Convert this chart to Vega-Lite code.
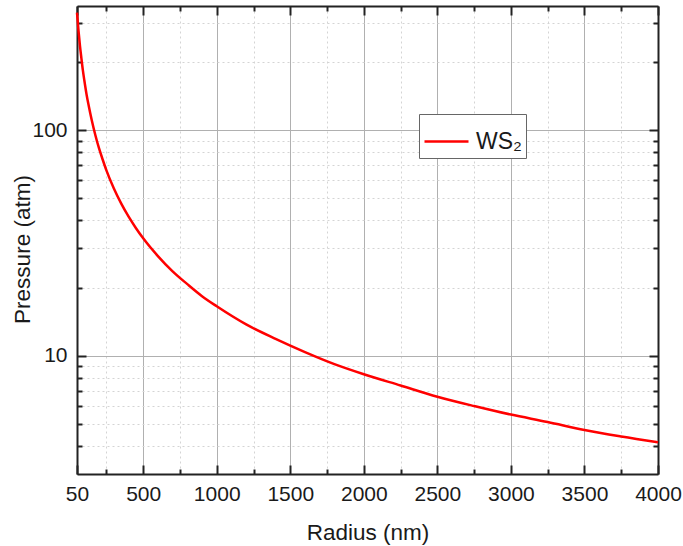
{
  "$schema": "https://vega.github.io/schema/vega-lite/v6.json",
  "width": 581,
  "height": 468,
  "autosize": {"type": "none"},
  "padding": {"left": 77, "top": 6, "right": 25, "bottom": 72},
  "background": "white",
  "config": {
    "view": {"stroke": null},
    "font": "Liberation Sans"
  },
  "data": {
    "values": [
      {"r": 50, "p": 332, "series": "WS₂"},
      {"r": 60, "p": 277, "series": "WS₂"},
      {"r": 70, "p": 237, "series": "WS₂"},
      {"r": 80, "p": 208, "series": "WS₂"},
      {"r": 90, "p": 184, "series": "WS₂"},
      {"r": 100, "p": 166, "series": "WS₂"},
      {"r": 115, "p": 144, "series": "WS₂"},
      {"r": 130, "p": 128, "series": "WS₂"},
      {"r": 150, "p": 111, "series": "WS₂"},
      {"r": 175, "p": 95, "series": "WS₂"},
      {"r": 200, "p": 83, "series": "WS₂"},
      {"r": 225, "p": 74, "series": "WS₂"},
      {"r": 250, "p": 66.4, "series": "WS₂"},
      {"r": 300, "p": 55.3, "series": "WS₂"},
      {"r": 350, "p": 47.4, "series": "WS₂"},
      {"r": 400, "p": 41.5, "series": "WS₂"},
      {"r": 450, "p": 36.9, "series": "WS₂"},
      {"r": 500, "p": 33.2, "series": "WS₂"},
      {"r": 600, "p": 27.7, "series": "WS₂"},
      {"r": 700, "p": 23.7, "series": "WS₂"},
      {"r": 800, "p": 20.8, "series": "WS₂"},
      {"r": 900, "p": 18.4, "series": "WS₂"},
      {"r": 1000, "p": 16.6, "series": "WS₂"},
      {"r": 1200, "p": 13.8, "series": "WS₂"},
      {"r": 1400, "p": 11.9, "series": "WS₂"},
      {"r": 1600, "p": 10.4, "series": "WS₂"},
      {"r": 1800, "p": 9.2, "series": "WS₂"},
      {"r": 2000, "p": 8.3, "series": "WS₂"},
      {"r": 2250, "p": 7.4, "series": "WS₂"},
      {"r": 2500, "p": 6.6, "series": "WS₂"},
      {"r": 2750, "p": 6.0, "series": "WS₂"},
      {"r": 3000, "p": 5.5, "series": "WS₂"},
      {"r": 3250, "p": 5.1, "series": "WS₂"},
      {"r": 3500, "p": 4.7, "series": "WS₂"},
      {"r": 3750, "p": 4.4, "series": "WS₂"},
      {"r": 4000, "p": 4.15, "series": "WS₂"}
    ]
  },
  "resolve": {
    "scale": {"x": "shared", "y": "shared"},
    "axis": {"x": "independent", "y": "independent"}
  },
  "layer": [
    {
      "mark": {"type": "line", "opacity": 0},
      "encoding": {
        "x": {"field": "r", "type": "quantitative", "scale": {"domain": [50, 4000], "nice": false, "zero": false},
          "axis": {"orient": "bottom", "values": [250, 750, 1250, 1750, 2250, 2750, 3250, 3750], "labels": false, "title": null,
            "domain": false, "ticks": true, "tickSize": -5, "tickWidth": 2, "tickColor": "#222",
            "grid": true, "gridColor": "#d4d4d4", "gridDash": [2, 3], "gridWidth": 1}},
        "y": {"field": "p", "type": "quantitative", "scale": {"type": "log", "domain": [3, 355], "nice": false},
          "axis": {"orient": "left", "values": [4, 5, 6, 7, 8, 9, 20, 30, 40, 50, 60, 70, 80, 90, 200, 300], "labels": false, "title": null,
            "domain": false, "ticks": true, "tickSize": -5, "tickWidth": 2, "tickColor": "#222",
            "grid": true, "gridColor": "#d4d4d4", "gridDash": [2, 3], "gridWidth": 1}}
      }
    },
    {
      "mark": {"type": "line", "opacity": 0},
      "encoding": {
        "x": {"field": "r", "type": "quantitative",
          "axis": {"orient": "top", "values": [250, 750, 1250, 1750, 2250, 2750, 3250, 3750], "labels": false, "title": null,
            "domain": false, "ticks": true, "tickSize": -5, "tickWidth": 2, "tickColor": "#222", "grid": false}},
        "y": {"field": "p", "type": "quantitative",
          "axis": {"orient": "right", "values": [4, 5, 6, 7, 8, 9, 20, 30, 40, 50, 60, 70, 80, 90, 200, 300], "labels": false, "title": null,
            "domain": false, "ticks": true, "tickSize": -5, "tickWidth": 2, "tickColor": "#222", "grid": false}}
      }
    },
    {
      "mark": {"type": "line", "opacity": 0},
      "encoding": {
        "x": {"field": "r", "type": "quantitative",
          "axis": {"orient": "top", "values": [50, 500, 1000, 1500, 2000, 2500, 3000, 3500, 4000], "labels": false, "title": null,
            "domain": true, "domainColor": "#222", "domainWidth": 2, "ticks": true, "tickSize": -9, "tickWidth": 2, "tickColor": "#222", "grid": false}},
        "y": {"field": "p", "type": "quantitative",
          "axis": {"orient": "right", "values": [10, 100], "labels": false, "title": null,
            "domain": true, "domainColor": "#222", "domainWidth": 2, "ticks": true, "tickSize": -9, "tickWidth": 2, "tickColor": "#222", "grid": false}}
      }
    },
    {
      "mark": {"type": "line", "color": "#ff0000", "strokeWidth": 2.5, "interpolate": "monotone"},
      "encoding": {
        "x": {"field": "r", "type": "quantitative",
          "axis": {"orient": "bottom", "values": [50, 500, 1000, 1500, 2000, 2500, 3000, 3500, 4000], "format": "d",
            "labelFont": "Liberation Sans", "labelFontSize": 21, "labelColor": "#1a1a1a", "labelPadding": 18,
            "labelFlush": false, "labelOverlap": false,
            "domain": true, "domainColor": "#222", "domainWidth": 2, "ticks": true, "tickSize": -9, "tickWidth": 2, "tickColor": "#222",
            "grid": true, "gridColor": "#b0b0b0", "gridWidth": 1,
            "title": "Radius (nm)", "titleFont": "Liberation Sans", "titleFontSize": 22.5, "titleFontWeight": "normal", "titleColor": "#1a1a1a",
            "titleY": 47.5}},
        "y": {"field": "p", "type": "quantitative",
          "axis": {"orient": "left", "values": [10, 100], "format": "d",
            "labelFont": "Liberation Sans", "labelFontSize": 21, "labelColor": "#1a1a1a", "labelPadding": 19,
            "labelFlush": false, "labelOverlap": false,
            "domain": true, "domainColor": "#222", "domainWidth": 2, "ticks": true, "tickSize": -9, "tickWidth": 2, "tickColor": "#222",
            "grid": true, "gridColor": "#b0b0b0", "gridWidth": 1,
            "title": "Pressure (atm)", "titleFont": "Liberation Sans", "titleFontSize": 22.5, "titleFontWeight": "normal", "titleColor": "#1a1a1a",
            "titleX": -55, "titleY": 243, "titleBaseline": "middle"}},
        "color": {"field": "series", "type": "nominal", "scale": {"range": ["#ff0000"]},
          "legend": {"orient": "none", "legendX": 342, "legendY": 108, "title": null,
            "symbolType": "stroke", "symbolSize": 1936, "symbolStrokeWidth": 2.5,
            "labelFont": "Liberation Sans", "labelFontSize": 23, "labelColor": "#1a1a1a", "labelOffset": 6,
            "padding": 4, "strokeColor": "#666", "fillColor": "white"}}
      }
    }
  ]
}
